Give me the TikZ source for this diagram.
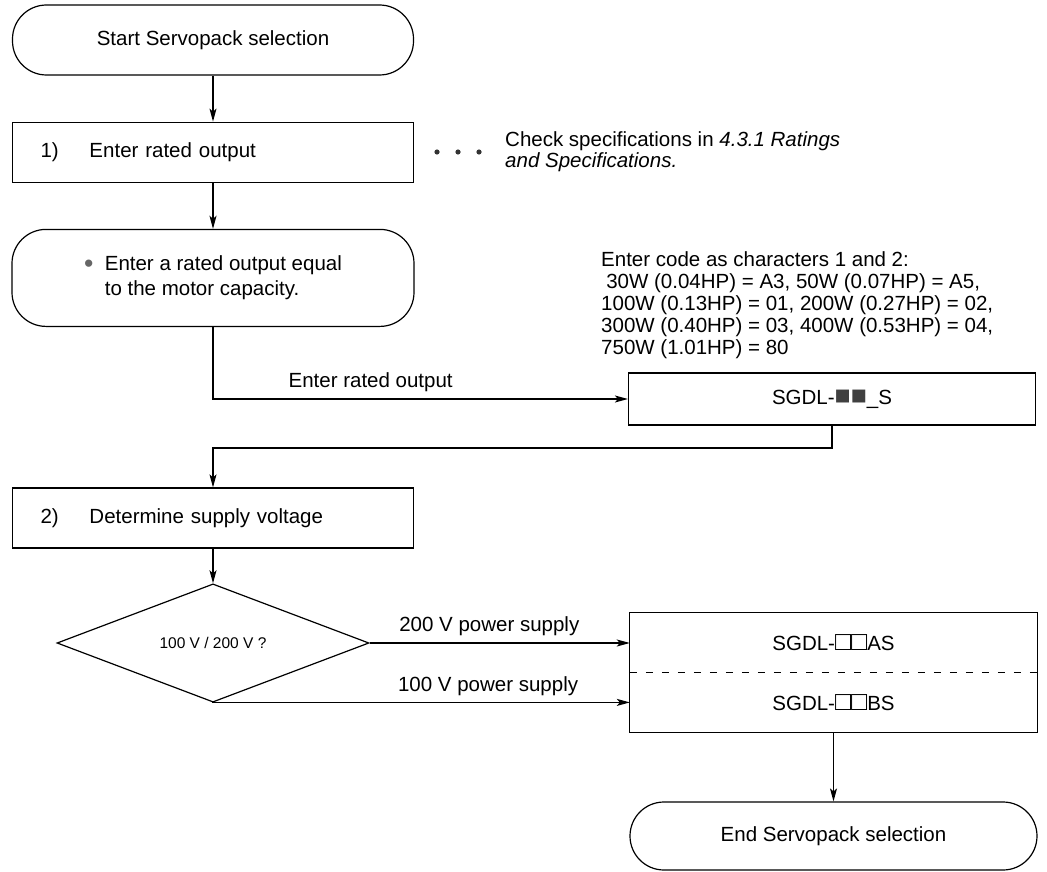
\documentclass[tikz,border=0pt]{standalone}
\usepackage{fontspec}
\setmainfont{Liberation Sans}
\usetikzlibrary{arrows.meta,positioning,shapes.geometric}
\newcommand{\dksq}{\scalebox{1.3}{\color{black!75}■}}
\newcommand{\opsq}{\scalebox{1.3}{□}}

\begin{document}
\begin{tikzpicture}[x=1pt, y=-1pt,
    font=\fontsize{20.5}{22}\selectfont,
    termbox/.style={draw, line width=1.2pt, rounded corners=34pt,
                    minimum width=401pt, minimum height=70pt, inner sep=0pt},
    stepbox/.style={draw, line width=1.2pt, minimum width=401pt, minimum height=60pt,
                    text width=345pt, inner xsep=28pt, align=left},
    capbox/.style={draw, line width=1.2pt, rounded corners=34pt, align=left,
                   minimum width=402pt, minimum height=97pt,
                   font=\fontsize{20.5}{25}\selectfont},
    codebox/.style={draw, line width=1.2pt, minimum width=407pt, minimum height=52pt},
    selpart/.style={minimum width=407pt, minimum height=59.5pt, inner sep=0pt},
    decide/.style={diamond, draw, line width=1.2pt, minimum width=312pt,
                   minimum height=94pt, inner sep=0pt, font=\fontsize{15.5}{18}\selectfont},
    note/.style={align=left, inner sep=0pt, font=\fontsize{20.5}{22}\selectfont},
    a/.style={-{Stealth[length=13pt, width=7pt, inset=3pt]}, line width=1.2pt}
  ]
  \useasboundingbox (0,0) rectangle (1047,872);

  % left column
  \node[termbox] (start) at (213,40) {Start Servopack selection};
  \node[stepbox, below=46pt of start] (s1) {\makebox[49pt][l]{1)}Enter rated output};
  \node[capbox, below=46pt of s1] (cap)
    {\raisebox{-1.5pt}{\scalebox{1.3}{\color{black!60}•}}\ \ Enter a rated output equal\\\phantom{\scalebox{1.3}{•}\ \ }to the motor capacity.};
  \draw[a] (start) -- (s1);
  \draw[a] (s1) -- (cap);

  % remark on step 1
  \foreach \x in {437,458,479} \fill[black!80] (\x,152) circle (2.6pt);
  \node[note, anchor=west, font=\fontsize{20.5}{21}\selectfont] (chk) at (505,152)
    {Check specifications in \textit{4.3.1 Ratings}\\\textit{and Specifications.}};

  % output code
  \node[note, anchor=north west] (code) at (601,251)
    {Enter code as characters 1 and 2:\\
     \hspace*{0.25em}30W (0.04HP) = A3, 50W (0.07HP) = A5,\\
     100W (0.13HP) = 01, 200W (0.27HP) = 02,\\
     300W (0.40HP) = 03, 400W (0.53HP) = 04,\\
     750W (1.01HP) = 80};
  \node[codebox] (sg) at (832,399) {SGDL-\dksq\dksq\_S};
  \draw[a] (cap.south) |- (sg.west) node[pos=0.69, above=3pt] {Enter rated output};

  % step 2
  \coordinate (ret) at (213,448);
  \node[stepbox] (s2) at (213,518) {\makebox[49pt][l]{2)}Determine supply voltage};
  \draw[a] (sg.south) |- (ret) -- (s2.north);
  \node[decide] (volt) at (213,643) {100 V / 200 V ?};
  \draw[a] (s2) -- (volt);

  % voltage codes
  \node[selpart] (sgA) at (833.5,642.5) {SGDL-\opsq\opsq AS};
  \node[selpart, below=0pt of sgA] (sgB) {SGDL-\opsq\opsq BS};
  \draw[line width=1.2pt] (sgA.north west) rectangle (sgB.south east);
  \draw[line width=1pt, dash pattern=on 7pt off 9pt] (sgA.south west) -- (sgA.south east);
  \draw[a] (volt.east) -- (volt.east -| sgA.west) node[pos=0.46, above=3pt] {200 V power supply};
  \draw[a] (volt.south) |- (sgB.west) node[pos=0.83, above=3pt] {100 V power supply};

  % end
  \node[termbox, minimum width=407pt, minimum height=68pt] (fin) at (833.5,836) {End Servopack selection};
  \draw[a] (sgB.south) -- (fin.north);
\end{tikzpicture}
\end{document}
